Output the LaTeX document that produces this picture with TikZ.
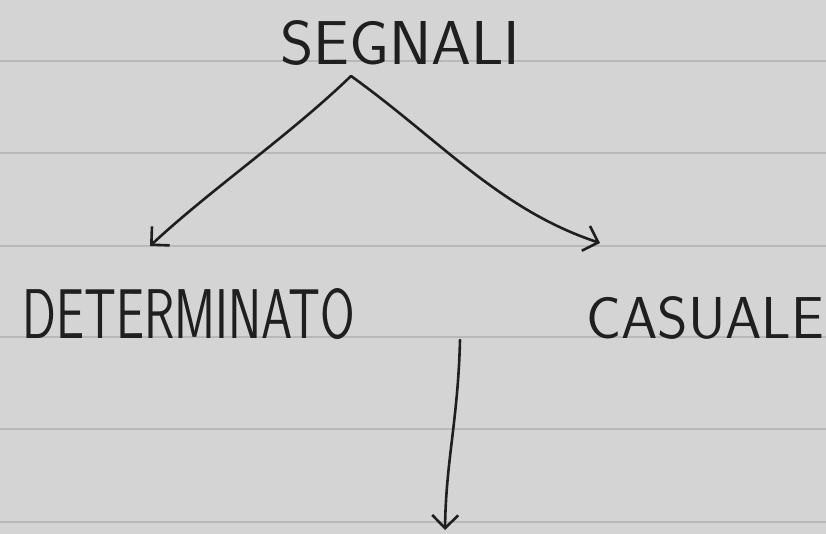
\documentclass[tikz,border=0pt]{standalone}
\usetikzlibrary{arrows.meta}
\begin{document}
\begin{tikzpicture}[x=1bp,y=-1bp,
  rule/.style={draw=black!28,line width=1.2bp},
  hand/.style={font=\sffamily\fontsize{62}{62}\selectfont,inner sep=0pt,anchor=south west,text=black!88},
  link/.style={draw=black!88,line width=2.6bp,line cap=round,-{Straight Barb[length=13bp,width=26bp,line width=2.6bp]}}]
\fill[black!17] (0,0) rectangle (826,534);
\useasboundingbox (0,0) rectangle (826,534);
\foreach \y in {61,153,246,337,429,522} \draw[rule] (0,\y) -- (826,\y);
\node[hand] (seg) at (280,66) {\resizebox{240bp}{44bp}{SEGNALI}};
\node[hand] (det) at (22,340) {\resizebox{333bp}{50bp}{DETERMINATO}};
\node[hand] (cas) at (586,340) {\resizebox{238bp}{42bp}{CASUALE}};
\coordinate (apex) at (351,76);
\coordinate (ltip) at (150,246);
\coordinate (rtip) at (600,243);
\coordinate (vstart) at (460,340);
\coordinate (vtip) at (445,530);
\draw[link] (apex) .. controls (290,135) and (210,190) .. (ltip);
\draw[link] (apex) .. controls (440,140) and (500,210) .. (rtip);
\draw[link] (vstart) .. controls (458,420) and (446,460) .. (vtip);
\end{tikzpicture}
\end{document}
